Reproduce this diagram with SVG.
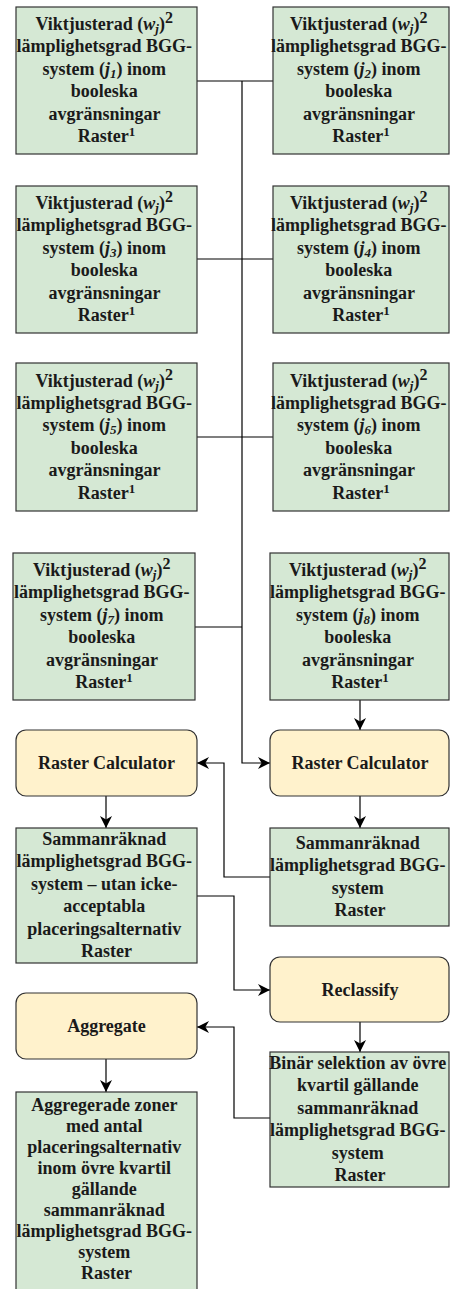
<svg xmlns="http://www.w3.org/2000/svg" width="450" height="1289" viewBox="0 0 450 1289">
  <defs>
    <style>
      .data { fill: #d5e8d4; stroke: #333333; stroke-width: 1.2; }
      .tool { fill: #fff2cc; stroke: #333333; stroke-width: 1.2; }
      .lbl { font-family: "Liberation Serif", "Times New Roman", serif; font-size: 18px; font-weight: bold; fill: #1a1a1a; text-anchor: middle; }
      .it { font-style: italic; }
      .sub { font-style: italic; font-size: 13px; }
      .sup2 { font-size: 16px; }
      .sup1 { font-size: 13px; }
      .edge { fill: none; stroke: #000000; stroke-width: 1.2; }
      .arrow { fill: none; stroke: #000000; stroke-width: 1.2; marker-end: url(#head); }
    </style>
    <marker id="head" markerWidth="12" markerHeight="12" refX="10" refY="5" orient="auto" markerUnits="userSpaceOnUse" viewBox="0 0 10 10">
      <path d="M0,0 L10,5 L0,10 L3,5 Z" fill="#000000"/>
    </marker>
  </defs>
  <rect width="450" height="1289" fill="#ffffff"/>

  <!-- connectors -->
  <g id="connectors">
    <path class="edge" d="M197,81 H273"/>
    <path class="edge" d="M197,259 H273"/>
    <path class="edge" d="M197,437 H273"/>
    <path class="edge" d="M195,627 H242"/>
    <path class="arrow" d="M242,81 V763 H270"/>
    <path class="arrow" d="M360,700 V730"/>
    <path class="arrow" d="M106,796 V828"/>
    <path class="arrow" d="M360,796 V828"/>
    <path class="arrow" d="M270,877 H224 V763 H197"/>
    <path class="arrow" d="M197,896 H234 V990 H270"/>
    <path class="arrow" d="M360,1022 V1052"/>
    <path class="arrow" d="M270,1118 H234 V1027 H197"/>
    <path class="arrow" d="M106,1059 V1092"/>
  </g>

  <!-- weighted suitability inputs j1..j8 -->
  <g id="j1">
    <rect class="data" x="16" y="7" width="181" height="147"/>
    <text class="lbl">
      <tspan x="106.5" y="30">Viktjusterad (<tspan class="it">w</tspan><tspan class="sub" dy="3">j</tspan><tspan dy="-3">)</tspan><tspan class="sup2" dy="-7">2</tspan></tspan>
      <tspan x="106.5" y="52.4">lämplighetsgrad BGG-</tspan>
      <tspan x="106.5" y="74.8">system (<tspan class="it">j</tspan><tspan class="sub" dy="3">1</tspan><tspan dy="-3">) inom</tspan></tspan>
      <tspan x="106.5" y="97.2">booleska</tspan>
      <tspan x="106.5" y="119.6">avgränsningar</tspan>
      <tspan x="106.5" y="142">Raster<tspan class="sup1" dy="-6">1</tspan></tspan>
    </text>
  </g>
  <g id="j2">
    <rect class="data" x="273" y="7" width="176" height="147"/>
    <text class="lbl">
      <tspan x="361" y="30">Viktjusterad (<tspan class="it">w</tspan><tspan class="sub" dy="3">j</tspan><tspan dy="-3">)</tspan><tspan class="sup2" dy="-7">2</tspan></tspan>
      <tspan x="361" y="52.4">lämplighetsgrad BGG-</tspan>
      <tspan x="361" y="74.8">system (<tspan class="it">j</tspan><tspan class="sub" dy="3">2</tspan><tspan dy="-3">) inom</tspan></tspan>
      <tspan x="361" y="97.2">booleska</tspan>
      <tspan x="361" y="119.6">avgränsningar</tspan>
      <tspan x="361" y="142">Raster<tspan class="sup1" dy="-6">1</tspan></tspan>
    </text>
  </g>
  <g id="j3">
    <rect class="data" x="16" y="186" width="181" height="147"/>
    <text class="lbl">
      <tspan x="106.5" y="209">Viktjusterad (<tspan class="it">w</tspan><tspan class="sub" dy="3">j</tspan><tspan dy="-3">)</tspan><tspan class="sup2" dy="-7">2</tspan></tspan>
      <tspan x="106.5" y="231.4">lämplighetsgrad BGG-</tspan>
      <tspan x="106.5" y="253.8">system (<tspan class="it">j</tspan><tspan class="sub" dy="3">3</tspan><tspan dy="-3">) inom</tspan></tspan>
      <tspan x="106.5" y="276.2">booleska</tspan>
      <tspan x="106.5" y="298.6">avgränsningar</tspan>
      <tspan x="106.5" y="321">Raster<tspan class="sup1" dy="-6">1</tspan></tspan>
    </text>
  </g>
  <g id="j4">
    <rect class="data" x="273" y="186" width="176" height="147"/>
    <text class="lbl">
      <tspan x="361" y="209">Viktjusterad (<tspan class="it">w</tspan><tspan class="sub" dy="3">j</tspan><tspan dy="-3">)</tspan><tspan class="sup2" dy="-7">2</tspan></tspan>
      <tspan x="361" y="231.4">lämplighetsgrad BGG-</tspan>
      <tspan x="361" y="253.8">system (<tspan class="it">j</tspan><tspan class="sub" dy="3">4</tspan><tspan dy="-3">) inom</tspan></tspan>
      <tspan x="361" y="276.2">booleska</tspan>
      <tspan x="361" y="298.6">avgränsningar</tspan>
      <tspan x="361" y="321">Raster<tspan class="sup1" dy="-6">1</tspan></tspan>
    </text>
  </g>
  <g id="j5">
    <rect class="data" x="16" y="363" width="181" height="148"/>
    <text class="lbl">
      <tspan x="106.5" y="386.5">Viktjusterad (<tspan class="it">w</tspan><tspan class="sub" dy="3">j</tspan><tspan dy="-3">)</tspan><tspan class="sup2" dy="-7">2</tspan></tspan>
      <tspan x="106.5" y="408.9">lämplighetsgrad BGG-</tspan>
      <tspan x="106.5" y="431.3">system (<tspan class="it">j</tspan><tspan class="sub" dy="3">5</tspan><tspan dy="-3">) inom</tspan></tspan>
      <tspan x="106.5" y="453.7">booleska</tspan>
      <tspan x="106.5" y="476.1">avgränsningar</tspan>
      <tspan x="106.5" y="498.5">Raster<tspan class="sup1" dy="-6">1</tspan></tspan>
    </text>
  </g>
  <g id="j6">
    <rect class="data" x="273" y="363" width="176" height="148"/>
    <text class="lbl">
      <tspan x="361" y="386.5">Viktjusterad (<tspan class="it">w</tspan><tspan class="sub" dy="3">j</tspan><tspan dy="-3">)</tspan><tspan class="sup2" dy="-7">2</tspan></tspan>
      <tspan x="361" y="408.9">lämplighetsgrad BGG-</tspan>
      <tspan x="361" y="431.3">system (<tspan class="it">j</tspan><tspan class="sub" dy="3">6</tspan><tspan dy="-3">) inom</tspan></tspan>
      <tspan x="361" y="453.7">booleska</tspan>
      <tspan x="361" y="476.1">avgränsningar</tspan>
      <tspan x="361" y="498.5">Raster<tspan class="sup1" dy="-6">1</tspan></tspan>
    </text>
  </g>
  <g id="j7">
    <rect class="data" x="13" y="553" width="182" height="147"/>
    <text class="lbl">
      <tspan x="104" y="576">Viktjusterad (<tspan class="it">w</tspan><tspan class="sub" dy="3">j</tspan><tspan dy="-3">)</tspan><tspan class="sup2" dy="-7">2</tspan></tspan>
      <tspan x="104" y="598.4">lämplighetsgrad BGG-</tspan>
      <tspan x="104" y="620.8">system (<tspan class="it">j</tspan><tspan class="sub" dy="3">7</tspan><tspan dy="-3">) inom</tspan></tspan>
      <tspan x="104" y="643.2">booleska</tspan>
      <tspan x="104" y="665.6">avgränsningar</tspan>
      <tspan x="104" y="688">Raster<tspan class="sup1" dy="-6">1</tspan></tspan>
    </text>
  </g>
  <g id="j8">
    <rect class="data" x="270" y="553" width="179" height="147"/>
    <text class="lbl">
      <tspan x="360" y="576">Viktjusterad (<tspan class="it">w</tspan><tspan class="sub" dy="3">j</tspan><tspan dy="-3">)</tspan><tspan class="sup2" dy="-7">2</tspan></tspan>
      <tspan x="360" y="598.4">lämplighetsgrad BGG-</tspan>
      <tspan x="360" y="620.8">system (<tspan class="it">j</tspan><tspan class="sub" dy="3">8</tspan><tspan dy="-3">) inom</tspan></tspan>
      <tspan x="360" y="643.2">booleska</tspan>
      <tspan x="360" y="665.6">avgränsningar</tspan>
      <tspan x="360" y="688">Raster<tspan class="sup1" dy="-6">1</tspan></tspan>
    </text>
  </g>

  <!-- processing steps -->
  <g id="raster-calculator-sum">
    <rect class="tool" x="270" y="730" width="179" height="66" rx="10" ry="10"/>
    <text class="lbl" x="360" y="769">Raster Calculator</text>
  </g>
  <g id="raster-calculator-mask">
    <rect class="tool" x="16" y="730" width="181" height="66" rx="10" ry="10"/>
    <text class="lbl" x="106.5" y="769">Raster Calculator</text>
  </g>
  <g id="sum-raster">
    <rect class="data" x="270" y="828" width="179" height="98"/>
    <text class="lbl">
      <tspan x="360" y="849">Sammanräknad</tspan>
      <tspan x="360" y="871.4">lämplighetsgrad BGG-</tspan>
      <tspan x="360" y="893.8">system</tspan>
      <tspan x="360" y="916.2">Raster</tspan>
    </text>
  </g>
  <g id="masked-sum-raster">
    <rect class="data" x="16" y="828" width="181" height="135"/>
    <text class="lbl">
      <tspan x="106.5" y="845">Sammanräknad</tspan>
      <tspan x="106.5" y="867.4">lämplighetsgrad BGG-</tspan>
      <tspan x="106.5" y="889.8">system – utan icke-</tspan>
      <tspan x="106.5" y="912.2">acceptabla</tspan>
      <tspan x="106.5" y="934.6">placeringsalternativ</tspan>
      <tspan x="106.5" y="957">Raster</tspan>
    </text>
  </g>
  <g id="reclassify">
    <rect class="tool" x="270" y="957" width="179" height="65" rx="10" ry="10"/>
    <text class="lbl" x="360" y="995.5">Reclassify</text>
  </g>
  <g id="binary-selection">
    <rect class="data" x="270" y="1052" width="179" height="135"/>
    <text class="lbl">
      <tspan x="360" y="1069">Binär selektion av övre</tspan>
      <tspan x="360" y="1091.4">kvartil gällande</tspan>
      <tspan x="360" y="1113.8">sammanräknad</tspan>
      <tspan x="360" y="1136.2">lämplighetsgrad BGG-</tspan>
      <tspan x="360" y="1158.6">system</tspan>
      <tspan x="360" y="1181">Raster</tspan>
    </text>
  </g>
  <g id="aggregate">
    <rect class="tool" x="16" y="993" width="181" height="66" rx="10" ry="10"/>
    <text class="lbl" x="106.5" y="1032">Aggregate</text>
  </g>
  <g id="aggregated-zones">
    <rect class="data" x="16" y="1092" width="181" height="210"/>
    <text class="lbl">
      <tspan x="106.5" y="1111">Aggregerade zoner</tspan>
      <tspan x="106.5" y="1132">med antal</tspan>
      <tspan x="106.5" y="1153">placeringsalternativ</tspan>
      <tspan x="106.5" y="1174">inom övre kvartil</tspan>
      <tspan x="106.5" y="1195">gällande</tspan>
      <tspan x="106.5" y="1216">sammanräknad</tspan>
      <tspan x="106.5" y="1237">lämplighetsgrad BGG-</tspan>
      <tspan x="106.5" y="1258">system</tspan>
      <tspan x="106.5" y="1279">Raster</tspan>
    </text>
  </g>
</svg>
